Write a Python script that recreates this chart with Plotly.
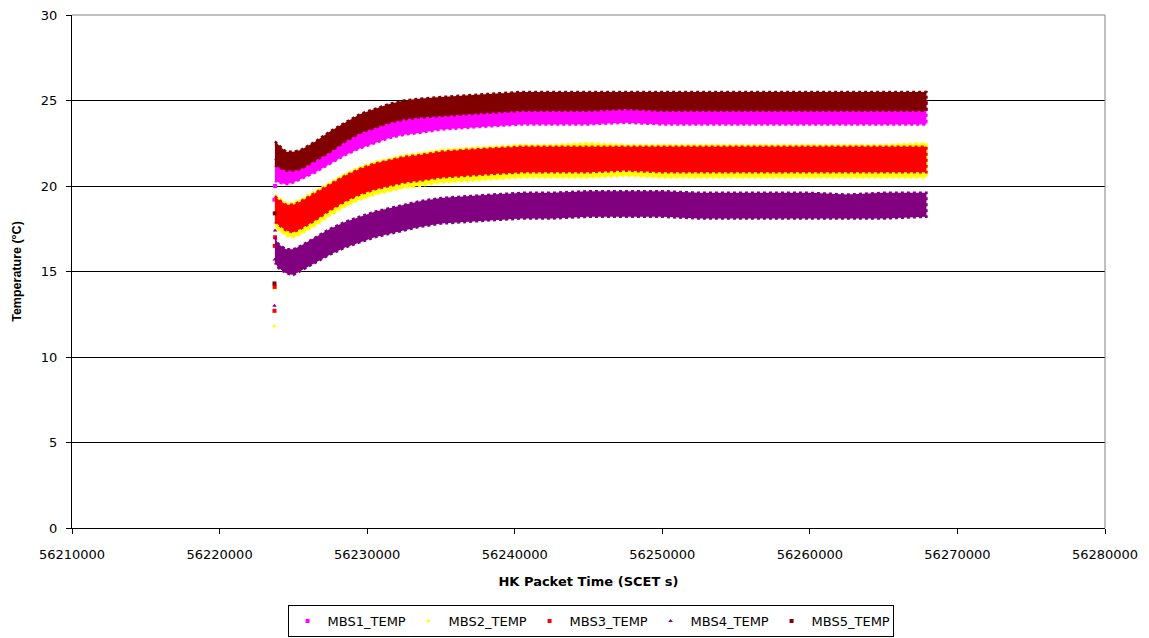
import plotly.graph_objects as go

# Knot times (SCET s) for the band envelopes
knot_t = [56223750, 56224000, 56224500, 56225000, 56225500, 56226500, 56227500,
          56228500, 56229500, 56230500, 56231500, 56232500, 56233500, 56235000,
          56236500, 56238500, 56240500, 56242500, 56245000, 56247500, 56250000,
          56252500, 56255000, 56257500, 56260000, 56262500, 56265000, 56267900]

# Upper / lower envelope of each housekeeping temperature (°C)
mbs1_hi = [21.6, 21.4, 21.2, 21.3, 21.5, 22.0, 22.6, 23.1, 23.5, 23.8, 24.1, 24.3, 24.4, 24.6,
           24.7, 24.8, 24.9, 24.9, 24.9, 24.9, 24.9, 24.9, 24.9, 24.9, 24.9, 24.9, 24.9, 24.9]
mbs1_lo = [20.3, 20.2, 20.1, 20.2, 20.4, 20.8, 21.3, 21.8, 22.2, 22.5, 22.8, 23.0, 23.1, 23.3,
           23.4, 23.5, 23.6, 23.6, 23.6, 23.7, 23.6, 23.6, 23.6, 23.6, 23.6, 23.6, 23.6, 23.6]

mbs2_hi = [19.5, 19.3, 19.0, 19.0, 19.2, 19.7, 20.2, 20.7, 21.1, 21.4, 21.6, 21.8, 21.9, 22.1,
           22.2, 22.3, 22.4, 22.4, 22.5, 22.4, 22.4, 22.4, 22.4, 22.4, 22.4, 22.4, 22.4, 22.5]
mbs2_lo = [17.6, 17.4, 17.1, 17.0, 17.2, 17.7, 18.3, 18.8, 19.2, 19.5, 19.7, 19.9, 20.0, 20.2,
           20.3, 20.4, 20.5, 20.5, 20.5, 20.6, 20.5, 20.5, 20.5, 20.5, 20.5, 20.5, 20.5, 20.5]

mbs3_hi = [19.4, 19.2, 18.9, 18.9, 19.1, 19.6, 20.1, 20.6, 21.0, 21.3, 21.5, 21.7, 21.8, 22.0,
           22.1, 22.2, 22.3, 22.3, 22.3, 22.3, 22.3, 22.3, 22.3, 22.3, 22.3, 22.3, 22.3, 22.3]
mbs3_lo = [17.9, 17.7, 17.4, 17.3, 17.5, 18.0, 18.6, 19.1, 19.5, 19.8, 20.0, 20.2, 20.3, 20.5,
           20.6, 20.7, 20.8, 20.8, 20.8, 20.9, 20.8, 20.8, 20.8, 20.8, 20.8, 20.8, 20.8, 20.8]

mbs4_hi = [17.0, 16.6, 16.3, 16.3, 16.5, 17.0, 17.5, 17.9, 18.2, 18.5, 18.7, 18.9, 19.1, 19.3,
           19.4, 19.5, 19.6, 19.6, 19.7, 19.7, 19.7, 19.6, 19.6, 19.6, 19.6, 19.5, 19.6, 19.6]
mbs4_lo = [15.5, 15.2, 14.9, 14.8, 15.0, 15.5, 16.0, 16.4, 16.7, 17.0, 17.2, 17.4, 17.6, 17.8,
           17.9, 18.0, 18.1, 18.1, 18.2, 18.2, 18.2, 18.1, 18.1, 18.1, 18.1, 18.1, 18.1, 18.2]

mbs5_hi = [22.6, 22.4, 22.0, 22.0, 22.1, 22.6, 23.2, 23.7, 24.2, 24.5, 24.8, 25.0, 25.1, 25.2,
           25.3, 25.4, 25.5, 25.5, 25.5, 25.5, 25.5, 25.5, 25.5, 25.5, 25.5, 25.5, 25.5, 25.5]
mbs5_lo = [21.2, 21.1, 20.9, 20.9, 21.0, 21.5, 22.0, 22.6, 23.1, 23.4, 23.7, 23.9, 24.0, 24.1,
           24.2, 24.3, 24.4, 24.4, 24.4, 24.5, 24.4, 24.4, 24.4, 24.4, 24.4, 24.4, 24.4, 24.4]

# Individual start-up samples lying outside the bands
mbs1_pts_t = [56223720, 56223760]
mbs1_pts_v = [19.2, 20.0]
mbs2_pts_t = [56223700, 56223730]
mbs2_pts_v = [11.8, 14.0]
mbs3_pts_t = [56223720, 56223730, 56223740, 56223760]
mbs3_pts_v = [12.7, 14.1, 16.5, 17.0]
mbs4_pts_t = [56223720, 56223740, 56223760]
mbs4_pts_v = [13.0, 15.7, 17.4]
mbs5_pts_t = [56223720, 56223740]
mbs5_pts_v = [14.3, 18.4]

names = ["MBS1_TEMP", "MBS2_TEMP", "MBS3_TEMP", "MBS4_TEMP", "MBS5_TEMP"]
colors = ["#FF00FF", "#FFFF00", "#FF0000", "#800080", "#800000"]
symbols = ["square", "triangle-up", "square", "triangle-up", "square"]
bands = [(mbs1_hi, mbs1_lo), (mbs2_hi, mbs2_lo), (mbs3_hi, mbs3_lo),
         (mbs4_hi, mbs4_lo), (mbs5_hi, mbs5_lo)]
points = [(mbs1_pts_t, mbs1_pts_v), (mbs2_pts_t, mbs2_pts_v), (mbs3_pts_t, mbs3_pts_v),
          (mbs4_pts_t, mbs4_pts_v), (mbs5_pts_t, mbs5_pts_v)]

fig = go.Figure()
for name, col, sym, (hi, lo), (pt, pv) in zip(names, colors, symbols, bands, points):
    fig.add_trace(go.Scatter(
        x=knot_t + knot_t[::-1], y=hi + lo[::-1],
        mode="lines", fill="toself", fillcolor=col,
        line=dict(color=col, width=2.5, dash="dot"),
        legendgroup=name, showlegend=False, hoverinfo="skip"))
    fig.add_trace(go.Scatter(
        x=pt, y=pv, mode="markers", name=name, legendgroup=name,
        marker=dict(color=col, symbol=sym, size=4, line=dict(width=0))))

wide = "DejaVu Sans, Verdana, sans-serif"
narrow = "Liberation Sans, Arial, sans-serif"
fig.update_layout(
    width=1149, height=638,
    margin=dict(l=72, r=44, t=15, b=110, autoexpand=False),
    paper_bgcolor="white", plot_bgcolor="white",
    font=dict(family=wide, size=13, color="black"),
    showlegend=True,
    legend=dict(orientation="h", x=0.502, xanchor="center", y=-0.2125, yanchor="bottom",
                bordercolor="black", borderwidth=1, font=dict(family=wide, size=13),
                itemwidth=30, tracegroupgap=0, entrywidth=76),
    xaxis=dict(range=[56210000, 56280000], dtick=10000, tick0=56210000,
               tickformat="d", showgrid=False, zeroline=False,
               showline=True, linecolor="black", linewidth=1,
               ticks="outside", ticklen=5, tickcolor="black", ticklabelstandoff=9,
               tickfont=dict(family=wide, size=13),
               title=dict(text="<b>HK Packet Time (SCET s)</b>", standoff=16,
                          font=dict(family=wide, size=13))),
    yaxis=dict(range=[0, 30], dtick=5, showgrid=True, gridcolor="black", gridwidth=1,
               zeroline=False, showline=True, linecolor="black", linewidth=1,
               ticks="outside", ticklen=5, tickcolor="black", ticklabelstandoff=6,
               tickfont=dict(family=wide, size=13),
               title=dict(text="<b>Temperature (°C)</b>", standoff=16,
                          font=dict(family=narrow, size=12.5))),
)

# Light frame on the top and right of the plotting area
fig.add_shape(type="line", xref="paper", yref="paper", x0=0, x1=1, y0=1, y1=1,
              line=dict(color="#808080", width=1))
fig.add_shape(type="line", xref="paper", yref="paper", x0=1, x1=1, y0=0, y1=1,
              line=dict(color="#808080", width=1))

fig.write_html("out.html")
